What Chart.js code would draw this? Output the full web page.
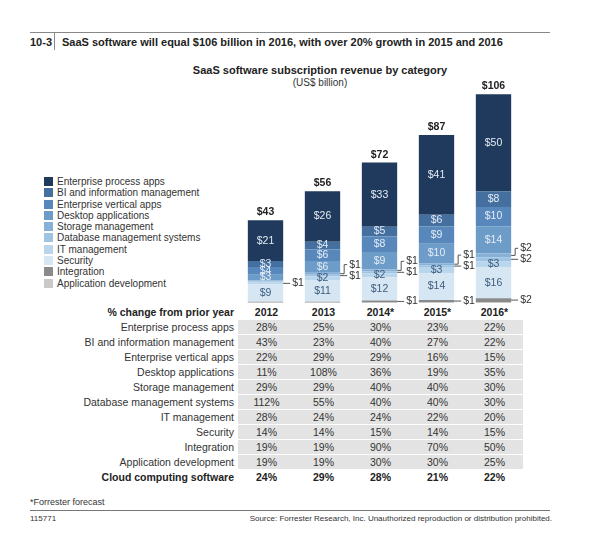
<!DOCTYPE html>
<html><head><meta charset="utf-8">
<script src="https://cdn.jsdelivr.net/npm/chart.js@4"></script>
<style>
body{margin:0;width:600px;height:550px;background:#fff;font-family:"Liberation Sans",Arial,sans-serif;color:#222;position:relative;overflow:hidden}
.a{position:absolute;white-space:nowrap}
#cv{position:absolute;left:0;top:55px}
.leg div{height:11.3px;font-size:10px;line-height:11px;color:#333}
.leg span{display:inline-block;width:9px;height:9px;margin-right:4px;vertical-align:-1px}
table{position:absolute;left:30px;top:305px;border-collapse:collapse;font-size:10.5px}
td{height:14px;padding:0;border-bottom:1px solid #fff;color:#333}
td.l{width:204px;text-align:right;padding-right:4px}
td.v{width:57px;text-align:center;background:#e3e3e3}
tr.h td,tr.b td{font-weight:bold;background:none;color:#222}
</style></head><body>
<div class="a" style="left:30px;top:32px;width:520px;border-top:1px solid #888"></div>
<div class="a" style="left:30px;top:36px;font-size:11px;font-weight:bold">10-3</div>
<div class="a" style="left:54px;top:33px;height:17px;border-left:1px solid #888"></div>
<div class="a" style="left:62px;top:36px;font-size:11px;font-weight:bold">SaaS software will equal $106 billion in 2016, with over 20% growth in 2015 and 2016</div>
<div class="a" style="left:0;width:560px;text-align:center;top:64px;font-size:11px;font-weight:bold;padding-left:40px">SaaS software subscription revenue by category</div>
<div class="a" style="left:0;width:560px;text-align:center;top:77px;font-size:10px;color:#333;padding-left:40px">(US$ billion)</div>
<div class="a leg" id="leg" style="left:44px;top:176px"></div>
<table id="tb"></table>
<div class="a" style="left:30px;top:497px;font-size:9px;color:#333">*Forrester forecast</div>
<div class="a" style="left:30px;top:510px;width:520px;border-top:1px solid #777"></div>
<div class="a" style="left:30px;top:514px;font-size:8px;color:#333">115771</div>
<div class="a" style="right:48px;top:514px;font-size:8px;color:#333">Source: Forrester Research, Inc. Unauthorized reproduction or distribution prohibited.</div>
<canvas id="cv" width="600" height="250"></canvas>
<script>
const years=['2012','2013','2014*','2015*','2016*'];
const totals=[43,56,72,87,106];
const enterpriseProcess=[21,26,33,41,50];
const biInfo=[3,4,5,6,8];
const enterpriseVertical=[4,6,8,9,10];
const desktop=[3,6,9,10,14];
const storage=[0.5,1,1,1,2];
const database=[0.5,1,1,1,2];
const itMgmt=[1,2,2,3,3];
const security=[9,11,12,14,16];
const integration=[0.4,0.4,1,1,2];
const appDev=[0.2,0.2,0.3,0.5,0.5];
const tableRows=['Enterprise process apps','BI and information management','Enterprise vertical apps','Desktop applications','Storage management','Database management systems','IT management','Security','Integration','Application development'];
const pctEP=['28%','25%','30%','23%','22%'];
const pctBI=['43%','23%','40%','27%','22%'];
const pctEV=['22%','29%','29%','16%','15%'];
const pctDesk=['11%','108%','36%','19%','35%'];
const pctStor=['29%','29%','40%','40%','30%'];
const pctDb=['112%','55%','40%','40%','30%'];
const pctIT=['28%','24%','24%','22%','20%'];
const pctSec=['14%','14%','15%','14%','15%'];
const pctInt=['19%','19%','90%','70%','50%'];
const pctApp=['19%','19%','30%','30%','25%'];
const pctCloud=['24%','29%','28%','21%','22%'];

const series=[
 ['Application development',appDev,'#c9c9c9','none'],
 ['Integration',integration,'#8a8a8a','right'],
 ['Security',security,'#d6e6f2','in'],
 ['IT management',itMgmt,'#b9d6ec','in'],
 ['Database management systems',database,'#9fc3e2','right'],
 ['Storage management',storage,'#88b1d7','right'],
 ['Desktop applications',desktop,'#6e9cc9','in'],
 ['Enterprise vertical apps',enterpriseVertical,'#5888bb','in'],
 ['BI and information management',biInfo,'#446f9f','in'],
 ['Enterprise process apps',enterpriseProcess,'#1f3a5c','in']
];
const leg=document.getElementById('leg');
series.slice().reverse().forEach(s=>{const d=document.createElement('div');d.innerHTML='<span style="background:'+s[2]+'"></span>'+s[0];leg.appendChild(d);});
const tb=document.getElementById('tb');
let h='<tr class="h"><td class="l">% change from prior year</td>'+years.map(y=>'<td class="v">'+y+'</td>').join('')+'</tr>';
[pctEP,pctBI,pctEV,pctDesk,pctStor,pctDb,pctIT,pctSec,pctInt,pctApp].forEach((r,i)=>{h+='<tr><td class="l">'+tableRows[i]+'</td>'+r.map(v=>'<td class="v">'+v+'</td>').join('')+'</tr>';});
h+='<tr class="b"><td class="l">Cloud computing software</td>'+pctCloud.map(v=>'<td class="v">'+v+'</td>').join('')+'</tr>';
tb.innerHTML=h;

const labels={id:'lbl',afterDatasetsDraw(c){
 const x=c.ctx;x.save();x.textAlign='center';x.textBaseline='middle';
 for(let i=0;i<years.length;i++){
  let lastY=1e9;
  c.data.datasets.forEach((ds,di)=>{
   const el=c.getDatasetMeta(di).data[i];const bw=el.width;
   const v=ds.data[i];const mode=series[di][3];
   const cy=(el.y+el.base)/2;
   if(mode==='in'&&v>=2){
     x.font='10.5px "Liberation Sans"';x.fillStyle=di<4?'#3d5c7e':'#e4ecf5';x.fillText('$'+Math.round(v),el.x,cy);}
   else if((mode==='right'||mode==='in')&&v>=1){
     let ly=Math.min(cy,lastY-11);lastY=ly;
     x.strokeStyle='#555';x.lineWidth=1;x.beginPath();
     x.moveTo(el.x+bw/2,cy);x.lineTo(el.x+bw/2+4,cy);x.lineTo(el.x+bw/2+4,ly);x.lineTo(el.x+bw/2+7,ly);x.stroke();
     x.fillStyle='#333';x.font='10.5px "Liberation Sans"';x.textAlign='left';x.fillText('$'+Math.round(v),el.x+bw/2+9,ly);x.textAlign='center';
   }
  });
  const top=c.getDatasetMeta(series.length-1).data[i];
  x.fillStyle='#222';x.font='bold 10.5px "Liberation Sans"';x.fillText('$'+totals[i],top.x,top.y-8);
 }
 x.restore();}};
new Chart(document.getElementById('cv'),{type:'bar',
 data:{labels:years,datasets:series.map(s=>({label:s[0],data:s[1],backgroundColor:s[2],borderWidth:0,barPercentage:0.62,categoryPercentage:1}))},
 options:{responsive:false,animation:false,layout:{padding:{left:237,right:78,top:15,bottom:2}},
  plugins:{legend:{display:false},tooltip:{enabled:false}},
  scales:{x:{stacked:true,display:false},y:{stacked:true,display:false,min:0,max:120}}},
 plugins:[labels]});
</script></body></html>
